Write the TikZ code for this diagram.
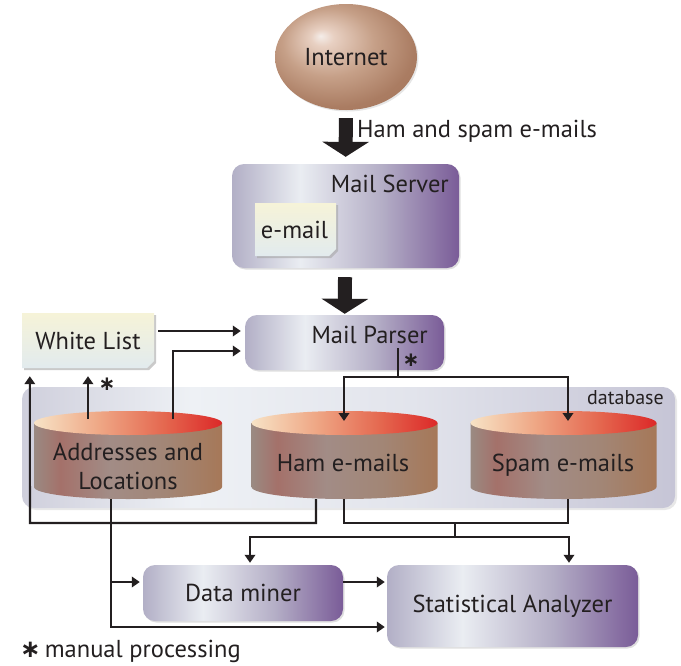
\documentclass[tikz,border=0pt]{standalone}
\usepackage{fontspec}
\setmainfont{PT Sans}
\newfontfamily\djv{DejaVu Sans}
\usetikzlibrary{arrows.meta,shadows,shapes.geometric,calc}
\definecolor{pL}{HTML}{B2AFC6}
\definecolor{pM}{HTML}{EAEDF2}
\definecolor{pQ}{HTML}{B4AEC6}
\definecolor{pR}{HTML}{7A5C98}
\definecolor{nT}{HTML}{F6F3D8}
\definecolor{nB}{HTML}{E2EBEE}
\definecolor{cT1}{HTML}{F7E3C6}
\definecolor{cT2}{HTML}{EFA886}
\definecolor{cT3}{HTML}{E4664E}
\definecolor{cT4}{HTML}{DC2828}
\definecolor{cB1}{HTML}{9A8A82}
\definecolor{cB2}{HTML}{A4716A}
\definecolor{cB3}{HTML}{A28C86}
\definecolor{cB4}{HTML}{A28676}
\definecolor{cB5}{HTML}{A67858}
\definecolor{dL}{HTML}{CFCFDC}
\definecolor{dM}{HTML}{EEF1F5}
\definecolor{dR}{HTML}{C6C5D6}
\definecolor{i0}{HTML}{F4EDE9}
\definecolor{i1}{HTML}{E8D0C2}
\definecolor{i2}{HTML}{C6A088}
\definecolor{i3}{HTML}{AA7C62}
\definecolor{i4}{HTML}{9E6C52}
\definecolor{ink}{HTML}{231F20}
\pgfdeclarehorizontalshading{boxshade}{100bp}{color(0bp)=(pL); color(25bp)=(pL); color(40bp)=(pM); color(58bp)=(pQ); color(75bp)=(pR); color(100bp)=(pR)}
\pgfdeclareverticalshading{noteshade}{100bp}{color(0bp)=(nB); color(25bp)=(nB); color(75bp)=(nT); color(100bp)=(nT)}
\pgfdeclarehorizontalshading{cyltop}{100bp}{color(0bp)=(cT1); color(25bp)=(cT1); color(42bp)=(cT2); color(60bp)=(cT3); color(75bp)=(cT4); color(100bp)=(cT4)}
\pgfdeclarehorizontalshading{cylbody}{100bp}{color(0bp)=(cB1); color(25bp)=(cB1); color(32bp)=(cB2); color(45bp)=(cB3); color(60bp)=(cB4); color(75bp)=(cB5); color(100bp)=(cB5)}
\pgfdeclarehorizontalshading{dbshade}{100bp}{color(0bp)=(dL); color(25bp)=(dL); color(38bp)=(dM); color(55bp)=(dM!70!dR); color(75bp)=(dR); color(100bp)=(dR)}
\pgfdeclareradialshading{inet}{\pgfpoint{-9bp}{10bp}}{color(0bp)=(i0); color(4bp)=(i1); color(16bp)=(i2); color(28bp)=(i3); color(50bp)=(i4)}
\newcommand\mycyl[2]{%
  \shade[shading=cylbody] (#1-#2,423) -- (#1-#2,487) arc[start angle=180,end angle=0,x radius=#2,y radius=12] -- (#1+#2,423) -- cycle;
  \shade[shading=cyltop] (#1,423) ellipse[x radius=#2,y radius=12];
}
\tikzset{
  txt/.style={font=\fontsize{24.5}{29}\selectfont, text=ink, inner sep=0pt},
  procbox/.style={shade, shading=boxshade, rounded corners=12pt, inner sep=0pt,
    drop shadow={opacity=0.25, shadow xshift=1.5pt, shadow yshift=-1.5pt}},
  plain/.style={line width=2.1pt, draw=ink},
  arr/.style={line width=2.1pt, draw=ink, -{Triangle[width=10.5pt,length=8pt]}},
  fat/.style={line width=14pt, draw=ink, -{Triangle[width=46pt,length=15pt]}},
  star/.style={font=\djv\bfseries\fontsize{20}{20}\selectfont, text=ink, inner sep=0pt}
}
\begin{document}
\begin{tikzpicture}[x=1pt,y=-1pt]
\useasboundingbox (0,0) rectangle (681,665);
% Internet
\node[ellipse, shade, shading=inet, minimum width=142pt, minimum height=106pt,
  drop shadow={opacity=0.2, shadow xshift=1.5pt, shadow yshift=-1.5pt}, txt] (inet) at (346,57) {Internet};
% Mail server
\node[procbox, minimum width=227pt, minimum height=104pt] (ms) at (345.5,216) {};
\node[txt, anchor=base east] (mstxt) at (449,192) {Mail Server};
\fill[black!35, opacity=0.6] (257,205) -- (338,205) -- (338,251) -- (331,258) -- (257,258) -- cycle;
\shade[shading=noteshade] (255,203) -- (336,203) -- (336,249) -- (329,256) -- (255,256) -- cycle;
\node[txt] (em) at (294.5,229.5) {e-mail};
% Mail parser
\node[procbox, minimum width=199pt, minimum height=55pt] (mp) at (344.5,342.5) {};
\node[txt, anchor=base east] (mptxt) at (428,343) {Mail Parser};
% White list
\fill[black!35, opacity=0.6] (24,315) -- (156,315) -- (156,363) -- (149,370) -- (24,370) -- cycle;
\shade[shading=noteshade] (22,313) -- (154,313) -- (154,361) -- (147,368) -- (22,368) -- cycle;
\node[txt, minimum width=132pt, minimum height=55pt] (wl) at (88,340.5) {White List};
% database
\shade[shading=dbshade, rounded corners=12pt,
  drop shadow={opacity=0.18, shadow xshift=2pt, shadow yshift=-2pt}] (22,387) rectangle (675,508);
\node[txt, font=\fontsize{20}{22}\selectfont, anchor=base east] (db) at (664,404) {database};
% cylinders
\mycyl{128}{94}
\mycyl{344.5}{93}
\mycyl{563.5}{93}
\node[txt, align=center, anchor=base] (ad) at (128,489) {Addresses and\\Locations};
\node[txt, anchor=base] (ham) at (343,471) {Ham e-mails};
\node[txt, anchor=base] (spam) at (563,471) {Spam e-mails};
% lower boxes
\node[procbox, minimum width=200pt, minimum height=56pt, txt] (dm) at (243,593) {Data miner};
\node[procbox, minimum width=251pt, minimum height=82pt, txt] (sa) at (512.5,606) {Statistical Analyzer};
% footnote
\node[txt, anchor=base west] (fn) at (20,657) {{\djv\bfseries ∗}\,manual processing};
% coordinates
\coordinate (adTL) at (88,419);
\coordinate (adTR) at (173,419);
\coordinate (adB) at (111,499);
\coordinate (hamT) at (344,421);
\coordinate (spamT) at (568,421);
\coordinate (hamB1) at (316,499);
\coordinate (hamB2) at (344,499);
\coordinate (spamB) at (568,499);
\coordinate (mpo) at (398,348);
\coordinate (split) at (398,377);
\coordinate (loopL) at (30,523);
\coordinate (j1) at (344,523);
\coordinate (j2) at (568,523);
\coordinate (j3) at (455,523);
\coordinate (j4) at (455,537);
% thick arrows
\draw[fat, shorten <=8pt, shorten >=7pt] (inet) -- (ms);
\node[txt, anchor=base west] (hs) at (357,137) {Ham and spam e-mails};
\draw[fat, shorten <=9pt, shorten >=1pt] (ms) -- (mp);
% connectors
\draw[arr, shorten >=4pt] ($(wl.east)+(4,-9.5)$) coordinate (a1) -- (a1 -| mp.west);
\draw[arr, shorten >=4pt] (adTR) |- ($(mp.west)+(0,8.5)$);
\draw[plain] (mpo) -- (split);
\draw[arr] (split) -| (hamT);
\draw[arr] (split) -| (spamT);
\node[star] (s1) at (411,360) {∗};
\draw[arr] (adTL) -- ($(wl.south)+(0,8)$);
\node[star] (s2) at (107,384) {∗};
\draw[arr] (hamB1) |- (loopL) -- ($(wl.south west)+(8,8)$);
\draw[plain] (hamB2) -- (j1) -- (j2) -- (spamB);
\draw[plain] (j3) -- (j4);
\draw[arr, shorten >=2pt] (j4) -| ($(dm.north)+(7,0)$);
\draw[arr, shorten >=2pt] (j4) -| ($(sa.north)+(56.5,0)$);
\draw[arr, shorten >=3pt] (adB) |- ($(dm.west)+(0,-11)$);
\draw[arr, shorten >=2pt] (adB) |- ($(sa.west)+(0,21)$);
\draw[arr, shorten >=2pt] ($(dm.east)+(0,-11)$) coordinate (b1) -- (b1 -| sa.west);
\end{tikzpicture}
\end{document}
